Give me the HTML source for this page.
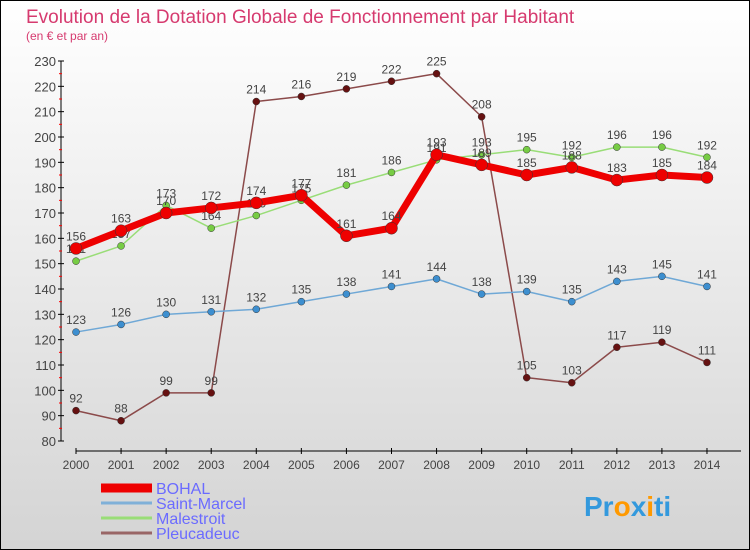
<!DOCTYPE html>
<html><head><meta charset="utf-8"><style>
body{margin:0;}
#c{width:750px;height:550px;position:relative;box-sizing:border-box;border:1px solid #000;background:linear-gradient(#ffffff,#d4d4d4);font-family:"Liberation Sans",sans-serif;overflow:hidden}
</style></head><body>
<div id="c">
<svg id="s" width="748" height="548" xmlns="http://www.w3.org/2000/svg" style="position:absolute;left:0;top:0">
<text x="25" y="22" font-size="19" fill="#d63a6f">Evolution de la Dotation Globale de Fonctionnement par Habitant</text>
<text x="25" y="39" font-size="12" fill="#d63a6f">(en € et par an)</text>
<g id="axes"></g><g id="series"></g><g id="legend"></g>
<text x="583" y="515" font-size="28" font-weight="bold" fill="#3399dd">Pr<tspan fill="#ff9900">o</tspan>x<tspan fill="#ff9900">i</tspan>ti</text>
</svg>
</div>
<script>
const years=[2000,2001,2002,2003,2004,2005,2006,2007,2008,2009,2010,2011,2012,2013,2014];
const yTicks=[80,90,100,110,120,130,140,150,160,170,180,190,200,210,220,230];
const bohal=[156,163,170,172,174,177,161,164,193,189,185,188,183,185,184];
const saintMarcel=[123,126,130,131,132,135,138,141,144,138,139,135,143,145,141];
const malestroit=[151,157,173,164,169,175,181,186,191,193,195,192,196,196,192];
const pleucadeuc=[92,88,99,99,214,216,219,222,225,208,105,103,117,119,111];
const NS="http://www.w3.org/2000/svg";
function X(i){return 75+i*45.07;}
function Y(v){return 440-(v-80)*380/150;}
function mk(p,t,a){const e=document.createElementNS(NS,t);for(const k in a)e.setAttribute(k,a[k]);p.appendChild(e);return e;}
const ax=document.getElementById('axes');
let yl=mk(ax,'line',{x1:60,y1:60,x2:60,y2:440,stroke:'#000'});


yTicks.forEach(v=>{mk(ax,'line',{x1:57,x2:63,y1:Y(v),y2:Y(v),stroke:'#000'});
 if(v<230)mk(ax,'line',{x1:58,x2:61,y1:Y(v+5),y2:Y(v+5),stroke:'#f00'});
 const t=mk(ax,'text',{x:55,y:Y(v)+5,'text-anchor':'end','font-size':13,fill:'#444'});t.textContent=v;
 
 });
let xl=mk(ax,'line',{x1:75,y1:450,x2:740,y2:450,stroke:'#000'});


years.forEach((y,i)=>{mk(ax,'line',{x1:X(i),x2:X(i),y1:447,y2:453,stroke:'#000'});
 const t=mk(ax,'text',{x:X(i),y:468,'text-anchor':'middle','font-size':12,fill:'#444'});t.textContent=y;
 
 });
const sg=document.getElementById('series');
function draw(name,data,col,dot,w,r){
 const g=mk(sg,'g',{});
 
 
 const pl=mk(g,'polyline',{points:data.map((v,i)=>X(i)+','+Y(v)).join(' '),fill:'none',stroke:col,'stroke-width':w,'stroke-linejoin':'round'});
 
 
 data.forEach((v,i)=>{const c=mk(g,'circle',{cx:X(i),cy:Y(v),r:r,fill:dot,stroke:'#333','stroke-width':0.5});
  
  
  const t=mk(g,'text',{x:X(i),y:Y(v)-8,'text-anchor':'middle','font-size':12,fill:'#444'});t.textContent=v;
  
  });
}
draw('pleucadeuc',pleucadeuc,'#8b4a4a','#661111',1.5,3.5);
draw('saint-marcel',saintMarcel,'#6fa8d6','#3d8fd0',1.5,3.5);
draw('malestroit',malestroit,'#99dd77','#77cc44',1.5,3.5);
draw('bohal',bohal,'#ee0000','#ee0000',7,6);
const lg=document.getElementById('legend');
[['BOHAL','#ee0000',9,493],['Saint-Marcel','#7fb0d8',3,508],['Malestroit','#99dd77',3,523],['Pleucadeuc','#996666',3,538]].forEach(([n,c,w,y])=>{
 const g=mk(lg,'g',{});
 
 
 mk(g,'line',{x1:100,x2:151,y1:y-6,y2:y-6,stroke:c,'stroke-width':w});
 const t=mk(g,'text',{x:155,y:y,'font-size':16,fill:'#6b6bff'});t.textContent=n;
});
</script>
</body></html>
